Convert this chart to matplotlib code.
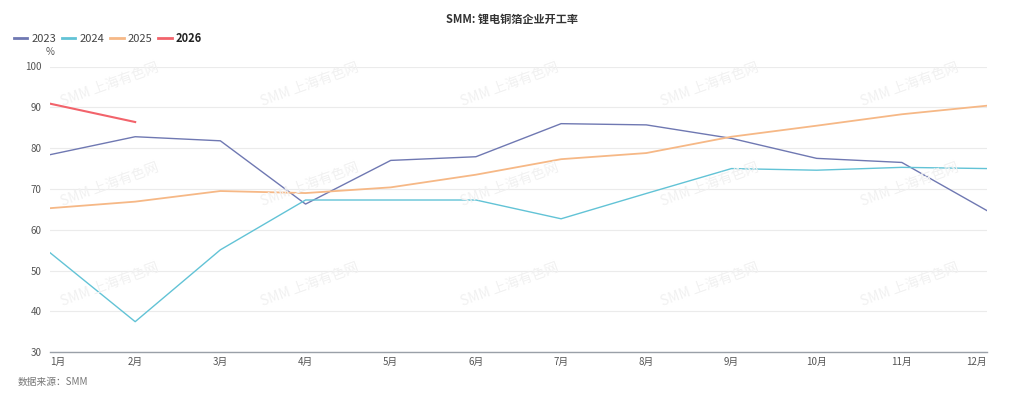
import numpy as np
import matplotlib
matplotlib.use("Agg")
import matplotlib.pyplot as plt

plt.rcParams['font.family'] = ['Noto Sans CJK SC', 'DejaVu Sans']

months = ["1月", "2月", "3月", "4月", "5月", "6月", "7月", "8月", "9月", "10月", "11月", "12月"]
y2023 = [78.4, 82.8, 81.8, 66.3, 77.0, 77.9, 86.0, 85.7, 82.4, 77.5, 76.5, 64.7]
y2024 = [54.4, 37.5, 55.1, 67.3, 67.3, 67.3, 62.7, 68.9, 75.0, 74.6, 75.3, 75.0]
y2025 = [65.3, 66.9, 69.5, 69.0, 70.4, 73.5, 77.3, 78.8, 82.8, 85.5, 88.3, 90.4]
y2026 = [90.9, 86.4]
yticks = [30, 40, 50, 60, 70, 80, 90, 100]

W, H = 1024, 399
fig = plt.figure(figsize=(W / 100, H / 100), dpi=100)
fig.patch.set_facecolor("white")

# plot area in pixels
x0, x1, ytop, ybot = 50, 987, 66.5, 352.3
ax = fig.add_axes([x0 / W, (H - ybot) / H, (x1 - x0) / W, (ybot - ytop) / H])

# watermark
for cy in [85, 185, 285]:
    for cx in [110, 310, 510, 710, 910]:
        fig.text(cx / W, 1 - cy / H, "SMM 上海有色网", fontsize=10, color="#f1f1f1",
                 rotation=20, ha="center", va="center", zorder=0)

x = np.arange(len(months))
ax.plot(x, y2023, color="#6f78b2", lw=1.0, label="2023", zorder=3)
ax.plot(x, y2024, color="#62c3d6", lw=1.0, label="2024", zorder=3)
ax.plot(x, y2025, color="#f6b886", lw=1.3, label="2025", zorder=3)
ax.plot(x[:len(y2026)], y2026, color="#f2636b", lw=1.5, label="2026", zorder=4)

ax.set_xlim(0, 11)
ax.set_ylim(30, 100)
ax.set_yticks(yticks)
ax.set_xticks(x)
ax.set_xticklabels(months)
ax.tick_params(axis="both", length=0, labelsize=7, colors="#555555")
ax.tick_params(axis="y", pad=6)
ax.tick_params(axis="x", pad=3)
labels = ax.get_xticklabels()
labels[0].set_ha("left")
labels[-1].set_ha("right")
ax.grid(axis="y", color="#ebebeb", lw=0.8)
ax.set_axisbelow(True)
for s in ["top", "right", "left"]:
    ax.spines[s].set_visible(False)
ax.spines["bottom"].set_color("#9aa0a8")
ax.spines["bottom"].set_linewidth(1.0)
ax.patch.set_alpha(0)

fig.text(x0 / W, 1 - 52 / H, "%", fontsize=7, color="#555555", ha="center", va="center")
fig.text(0.5, 1 - 19 / H, "SMM: 锂电铜箔企业开工率", fontsize=8, fontweight="bold",
         color="#333333", ha="center", va="center")
fig.text(18 / W, 1 - 382 / H, "数据来源：SMM", fontsize=7, style="italic",
         color="#777777", ha="left", va="center")

leg = fig.legend(loc="center left", bbox_to_anchor=(14 / W, 1 - 38 / H), ncol=4,
                 frameon=False, fontsize=8, handlelength=1.2, handletextpad=0.35,
                 columnspacing=0.55, borderaxespad=0, borderpad=0)
for t in leg.get_texts():
    t.set_color("#444444")
leg.get_texts()[3].set_fontweight("bold")
leg.get_texts()[3].set_color("#222222")
for l in leg.get_lines():
    l.set_linewidth(2)

fig.savefig("out.png", dpi=100)
